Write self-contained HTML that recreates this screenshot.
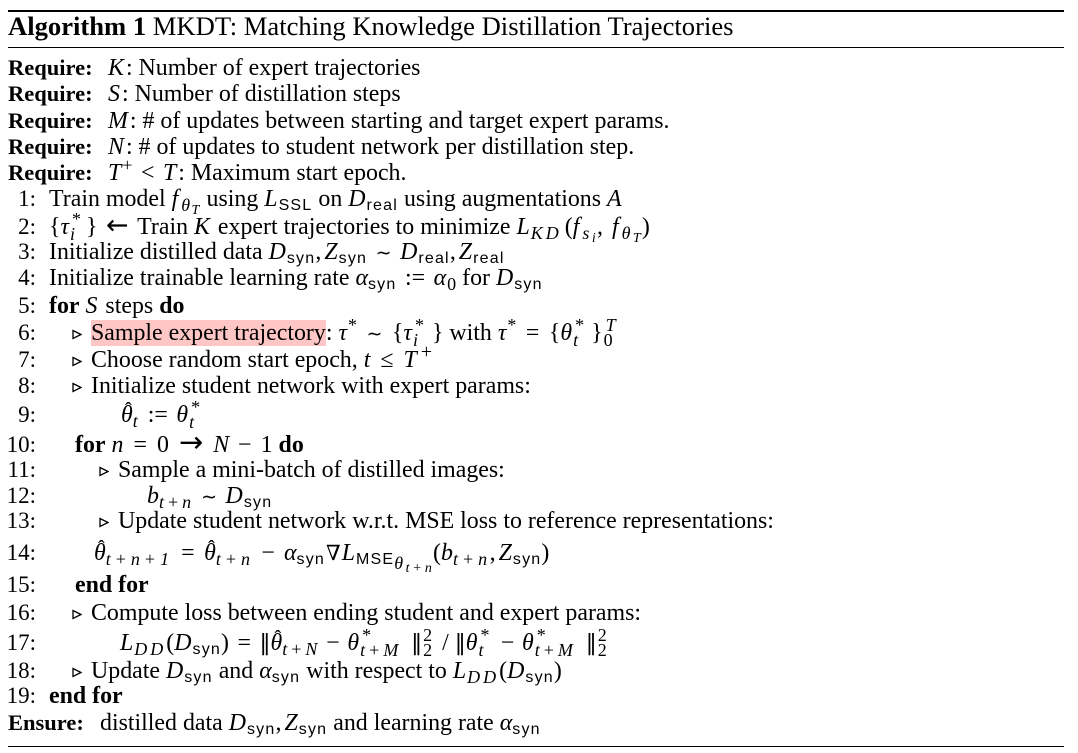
<!DOCTYPE html>
<html><head><meta charset="utf-8">
<style>
html,body{margin:0;padding:0;background:#fff;}
body{width:1078px;height:753px;position:relative;overflow:hidden;font-family:"Liberation Serif","DejaVu Serif",serif;color:#000;}
.r{position:absolute;left:8px;width:1056px;background:#000;}
.row{position:absolute;left:0;white-space:nowrap;font-size:23px;line-height:23px;}
.num{display:inline-block;width:36px;text-align:right;}
.lab{display:inline-block;font-weight:bold;font-size:22.5px;}
.t{font-size:23.9px;}
i{font-style:italic;}
.v{font-style:italic;margin-right:2px;}
.c{font-style:italic;margin:0 1px 0 0;}
.f{font-style:italic;margin-right:3px;}
.cm{margin-right:3px;}
.s{font-family:"Liberation Sans",sans-serif;font-size:16px;letter-spacing:1.2px;position:relative;top:4px;}
.sb{font-size:18px;position:relative;top:5px;font-style:italic;letter-spacing:1.5px;}
.sb.w{letter-spacing:3px;}
.sb.x{letter-spacing:2.5px;}
.sbr{font-size:18px;position:relative;top:5px;margin-left:1px;}
.sp{font-size:18px;position:relative;top:-9px;margin-left:1px;}
.ss{font-size:14px;position:relative;top:3px;font-style:italic;letter-spacing:1.2px;}
.pl{font-style:normal;margin:0 2.5px;}
.st{display:inline-block;position:relative;height:0;vertical-align:baseline;}
.st>span{position:absolute;left:0;font-size:18px;line-height:16px;white-space:nowrap;letter-spacing:1.5px;}
.st>.u{top:-23px;left:3px;}
.st>.d{top:-8px;font-style:italic;left:1px;}
.tri{display:inline-block;width:10px;height:11px;margin-right:9px;vertical-align:0;}
.h{position:relative;display:inline-block;font-style:italic;}
.h>.a{position:absolute;left:4px;top:-4px;font-style:normal;font-size:20px;line-height:20px;}
.hl{background:#ffc6c6;}
.rel{display:inline-block;margin:0 8.5px;}
.bin{display:inline-block;margin:0 7.5px;}
.ar{font-family:"DejaVu Sans",sans-serif;font-size:27px;}
.sim{font-family:"DejaVu Sans",sans-serif;font-size:19px;}
.nb{font-family:"DejaVu Serif",serif;font-size:21px;margin:0 1px;}
.nm{font-family:"DejaVu Sans",sans-serif;font-size:22px;}
</style></head><body>

<div class="r" style="top:10px;height:2px"></div>
<div class="r" style="top:47px;height:1px"></div>
<div class="r" style="top:746px;height:1px"></div>

<div style="position:absolute;left:8px;top:13px;font-size:26.6px;line-height:26px;white-space:nowrap"><b>Algorithm 1</b> MKDT: Matching Knowledge Distillation Trajectories</div>

<div class="row" style="top:56px;left:8px"><span class="lab" style="width:100px">Require:</span><span class="t"><span class="v">K</span>: Number of expert trajectories</span></div>
<div class="row" style="top:82px;left:8px"><span class="lab" style="width:100px">Require:</span><span class="t"><span class="v">S</span>: Number of distillation steps</span></div>
<div class="row" style="top:109px;left:8px"><span class="lab" style="width:100px">Require:</span><span class="t"><span class="v">M</span>: # of updates between starting and target expert params.</span></div>
<div class="row" style="top:135px;left:8px"><span class="lab" style="width:100px">Require:</span><span class="t"><span class="v">N</span>: # of updates to student network per distillation step.</span></div>
<div class="row" style="top:161px;left:8px"><span class="lab" style="width:100px">Require:</span><span class="t"><i>T</i><span class="sp">+</span><span class="rel">&lt;</span><span class="v">T</span>: Maximum start epoch.</span></div>

<div class="row" style="top:187px"><span class="num">1:</span><span class="t" style="margin-left:13px">Train model <span class="f">f</span><span class="sb">θ<span class="ss">T</span></span> using <span class="c">L</span><span class="s">SSL</span> on <span class="c">D</span><span class="s">real</span> using augmentations <span class="c">A</span></span></div>

<div class="row" style="top:214px"><span class="num">2:</span><span class="t" style="margin-left:13px">{<i>τ</i><span class="st" style="width:17px"><span class="u">*</span><span class="d">i</span></span>}<span class="rel ar">←</span>Train <span class="v">K</span> expert trajectories to minimize <span class="c">L</span><span class="sb w" style="margin-right:3px">KD</span>(<span class="f">f</span><span class="sb x">s<span class="ss">i</span></span><span class="cm">,</span> <span class="f">f</span><span class="sb x">θ<span class="ss">T</span></span>)</span></div>

<div class="row" style="top:240px"><span class="num">3:</span><span class="t" style="margin-left:13px">Initialize distilled data <span class="c">D</span><span class="s">syn</span><span class="cm">,</span><span class="c">Z</span><span class="s">syn</span><span class="rel sim">∼</span><span class="c">D</span><span class="s">real</span><span class="cm">,</span><span class="c">Z</span><span class="s">real</span></span></div>

<div class="row" style="top:266px"><span class="num">4:</span><span class="t" style="margin-left:13px">Initialize trainable learning rate <i>α</i><span class="s">syn</span><span class="rel">:=</span><i>α</i><span class="sbr">0</span> for <span class="c">D</span><span class="s">syn</span></span></div>

<div class="row" style="top:294px"><span class="num">5:</span><span class="t" style="margin-left:13px"><b>for</b> <span class="v">S</span> steps <b>do</b></span></div>

<div class="row" style="top:321px"><span class="num">6:</span><span class="t" style="margin-left:36px"><svg class="tri" viewBox="0 0 10 11"><path d="M1 1.5 L9 5.5 L1 9.5 Z" fill="none" stroke="#000" stroke-width="1.3"/></svg><span class="hl">Sample expert trajectory</span>: <i>τ</i><span class="sp">*</span><span class="rel sim" style="margin:0 9.5px">∼</span>{<i>τ</i><span class="st" style="width:20px"><span class="u">*</span><span class="d">i</span></span>} with <i>τ</i><span class="sp">*</span><span class="rel" style="margin:0 9.5px">=</span>{<i>θ</i><span class="st" style="width:19px"><span class="u">*</span><span class="d">t</span></span>}<span class="st" style="width:18px"><span class="u" style="font-style:italic">T</span><span class="d" style="font-style:normal">0</span></span></span></div>

<div class="row" style="top:348px"><span class="num">7:</span><span class="t" style="margin-left:36px"><svg class="tri" viewBox="0 0 10 11"><path d="M1 1.5 L9 5.5 L1 9.5 Z" fill="none" stroke="#000" stroke-width="1.3"/></svg>Choose random start epoch, <i>t</i><span class="rel" style="margin:0 10px">≤</span><i style="margin-right:2px">T</i><span class="sp" style="margin-left:2px;font-size:20px">+</span></span></div>

<div class="row" style="top:374px"><span class="num">8:</span><span class="t" style="margin-left:36px"><svg class="tri" viewBox="0 0 10 11"><path d="M1 1.5 L9 5.5 L1 9.5 Z" fill="none" stroke="#000" stroke-width="1.3"/></svg>Initialize student network with expert params:</span></div>

<div class="row" style="top:403px"><span class="num">9:</span><span class="t" style="margin-left:85px"><span class="h">θ<span class="a">ˆ</span></span><span class="sb">t</span><span class="rel">:=</span><i>θ</i><span class="st" style="width:16px"><span class="u">*</span><span class="d">t</span></span></span></div>

<div class="row" style="top:431px"><span class="num">10:</span><span class="t" style="margin-left:39px"><b>for</b> <i>n</i><span class="rel" style="margin:0 10px">=</span>0<span class="rel ar" style="margin:0 10px;font-size:29px">→</span><i>N</i><span class="bin" style="margin:0 9px">−</span>1 <b>do</b></span></div>

<div class="row" style="top:458px"><span class="num">11:</span><span class="t" style="margin-left:63px"><svg class="tri" viewBox="0 0 10 11"><path d="M1 1.5 L9 5.5 L1 9.5 Z" fill="none" stroke="#000" stroke-width="1.3"/></svg>Sample a mini-batch of distilled images:</span></div>

<div class="row" style="top:484px"><span class="num">12:</span><span class="t" style="margin-left:111px"><i>b</i><span class="sb">t<span class="pl">+</span>n</span><span class="rel sim">∼</span><span class="c">D</span><span class="s">syn</span></span></div>

<div class="row" style="top:509px"><span class="num">13:</span><span class="t" style="margin-left:63px"><svg class="tri" viewBox="0 0 10 11"><path d="M1 1.5 L9 5.5 L1 9.5 Z" fill="none" stroke="#000" stroke-width="1.3"/></svg>Update student network w.r.t. MSE loss to reference representations:</span></div>

<div class="row" style="top:541px"><span class="num">14:</span><span class="t" style="margin-left:58px"><span class="h">θ<span class="a">ˆ</span></span><span class="sb x">t<span class="pl">+</span>n<span class="pl">+</span>1</span><span class="rel" style="margin:0 9.5px">=</span><span class="h">θ<span class="a">ˆ</span></span><span class="sb x">t<span class="pl">+</span>n</span><span class="bin" style="margin:0 9px">−</span><i>α</i><span class="s">syn</span><span class="nb">∇</span><span class="c">L</span><span class="s">MSE</span><span class="sb x" style="top:9px">θ<span class="ss">t<span class="pl">+</span>n</span></span>(<i>b</i><span class="sb x">t<span class="pl">+</span>n</span><span class="cm">,</span><span class="c">Z</span><span class="s">syn</span>)</span></div>

<div class="row" style="top:573px"><span class="num">15:</span><span class="t" style="margin-left:39px"><b>end for</b></span></div>

<div class="row" style="top:601px"><span class="num">16:</span><span class="t" style="margin-left:36px"><svg class="tri" viewBox="0 0 10 11"><path d="M1 1.5 L9 5.5 L1 9.5 Z" fill="none" stroke="#000" stroke-width="1.3"/></svg>Compute loss between ending student and expert params:</span></div>

<div class="row" style="top:631px"><span class="num">17:</span><span class="t" style="margin-left:84px"><span class="c">L</span><span class="sb w">DD</span>(<span class="c">D</span><span class="s">syn</span>)<span class="rel">=</span><span class="nm">‖</span><span class="h">θ<span class="a">ˆ</span></span><span class="sb">t<span class="pl">+</span>N</span><span class="bin">−</span><i>θ</i><span class="st" style="width:52px"><span class="u">*</span><span class="d">t<span class="pl">+</span>M</span></span><span class="nm">‖</span><span class="st" style="width:14px"><span class="u" style="left:1px">2</span><span class="d" style="font-style:normal">2</span></span> / <span class="nm">‖</span><i>θ</i><span class="st" style="width:16px"><span class="u">*</span><span class="d">t</span></span><span class="bin">−</span><i>θ</i><span class="st" style="width:52px"><span class="u">*</span><span class="d">t<span class="pl">+</span>M</span></span><span class="nm">‖</span><span class="st" style="width:14px"><span class="u" style="left:1px">2</span><span class="d" style="font-style:normal">2</span></span></span></div>

<div class="row" style="top:659px"><span class="num">18:</span><span class="t" style="margin-left:36px"><svg class="tri" viewBox="0 0 10 11"><path d="M1 1.5 L9 5.5 L1 9.5 Z" fill="none" stroke="#000" stroke-width="1.3"/></svg>Update <span class="c">D</span><span class="s">syn</span> and <i>α</i><span class="s">syn</span> with respect to <span class="c">L</span><span class="sb w">DD</span>(<span class="c">D</span><span class="s">syn</span>)</span></div>

<div class="row" style="top:684px"><span class="num">19:</span><span class="t" style="margin-left:13px"><b>end for</b></span></div>

<div class="row" style="top:711px;left:8px"><span class="lab" style="width:92px">Ensure:</span><span class="t">distilled data <span class="c">D</span><span class="s">syn</span><span class="cm">,</span><span class="c">Z</span><span class="s">syn</span> and learning rate <i>α</i><span class="s">syn</span></span></div>

</body></html>
